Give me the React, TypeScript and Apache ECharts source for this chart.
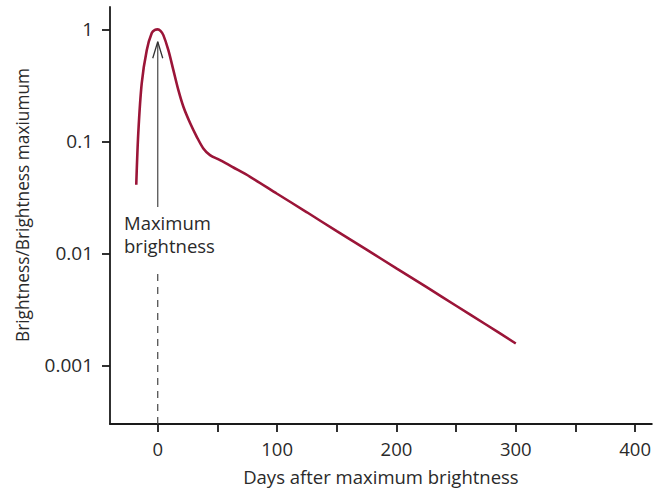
import React, { useEffect, useRef } from "react";
import * as echarts from "echarts";

// Light curve of a Type I supernova (brightness relative to maximum)
const days = [-18, -16.3, -13.4, -9.2, -5, -2.3, 0, 2.3, 4.7, 8.9, 13.1, 17.3, 21.5, 27.1, 32.7, 38.2, 43.8, 52.2, 63.4, 77.4, 100, 125, 150, 175, 200, 225, 250, 275, 300];
const brightness = [0.041, 0.119, 0.332, 0.653, 0.927, 0.99, 1, 0.97, 0.889, 0.653, 0.433, 0.287, 0.204, 0.146, 0.11, 0.0866, 0.0755, 0.068, 0.0585, 0.0483, 0.0341, 0.0233, 0.0158, 0.0108, 0.00736, 0.00502, 0.00341, 0.00232, 0.00157];

const xTicks = [0, 50, 100, 150, 200, 250, 300, 350, 400];
const xLabels = [0, 100, 200, 300, 400];
const yTickValues = [0.001, 0.01, 0.1, 1];
const yTickLabels = ["0.001", "0.01", "0.1", "1"];

// annotation: arrow marking maximum brightness
const arrowDay = 0;
const arrowTip = 0.775;
const arrowShaftBottom = 0.026;
const arrowWing = 0.553;
const arrowWingDays = [-4.2, 4.2];
const dashTop = 0.0074;

const X_MIN = -40;
const X_MAX = 414;
const Y_MIN = 0.0003;
const Y_MAX = 1.585;

const FONT = "Open Sans";
const TEXT = "#2a2a2a";
const l = (v: number) => Math.log10(v);

export default function App() {
  const ref = useRef<HTMLDivElement>(null);
  useEffect(() => {
    if (!ref.current) return;
    const chart = echarts.init(ref.current, undefined, { renderer: "svg" });
    const yLog = yTickValues.map(l);
    chart.setOption({
      animation: false,
      backgroundColor: "#ffffff",
      grid: { left: 110, right: 2, top: 7, bottom: 71 },
      xAxis: {
        type: "value",
        min: X_MIN,
        max: X_MAX,
        name: "Days after maximum brightness",
        nameLocation: "middle",
        nameGap: 43,
        nameTextStyle: { fontFamily: FONT, fontSize: 18.5, color: TEXT },
        axisLine: { onZero: false, lineStyle: { color: "#1a1a1a", width: 1.8 } },
        axisTick: { show: true, customValues: xTicks, length: 8, lineStyle: { color: "#1a1a1a", width: 1.8 } },
        axisLabel: { customValues: xLabels, margin: 15, fontFamily: FONT, fontSize: 18.5, color: TEXT },
        splitLine: { show: false },
      },
      yAxis: {
        type: "value",
        min: l(Y_MIN),
        max: l(Y_MAX),
        axisLine: { show: true, onZero: false, lineStyle: { color: "#1a1a1a", width: 1.8 } },
        axisTick: { show: true, customValues: yLog, length: 8, lineStyle: { color: "#1a1a1a", width: 1.8 } },
        axisLabel: {
          customValues: yLog,
          margin: 17,
          fontFamily: FONT,
          fontSize: 19,
          color: TEXT,
          formatter: (v: number) => {
            const i = yLog.findIndex((t) => Math.abs(t - v) < 1e-6);
            return i >= 0 ? yTickLabels[i] : "";
          },
        },
        splitLine: { show: false },
      },
      graphic: [
        {
          type: "text",
          x: 22,
          y: 205,
          rotation: Math.PI / 2,
          style: {
            text: "Brightness/Brightness maxiumum",
            fontFamily: FONT,
            fontSize: 17.3,
            fill: TEXT,
            textAlign: "center",
            textVerticalAlign: "middle",
          },
        },
        {
          type: "text",
          left: 124,
          top: 211,
          style: {
            text: "Maximum\nbrightness",
            fontFamily: FONT,
            fontSize: 18.5,
            lineHeight: 23,
            fill: TEXT,
          },
        },
      ],
      series: [
        {
          type: "line",
          data: [[arrowDay, l(Y_MIN)], [arrowDay, l(dashTop)]],
          symbol: "none",
          lineStyle: { color: "#444", width: 1.2, type: [7, 6] },
          silent: true,
        },
        {
          type: "line",
          data: [[arrowDay, l(arrowShaftBottom)], [arrowDay, l(arrowTip)]],
          symbol: "none",
          lineStyle: { color: "#555", width: 1.3 },
          silent: true,
        },
        {
          type: "line",
          data: [[arrowWingDays[0], l(arrowWing)], [arrowDay, l(arrowTip)], [arrowWingDays[1], l(arrowWing)]],
          symbol: "none",
          lineStyle: { color: "#333", width: 1.3 },
          silent: true,
        },
        {
          type: "line",
          data: days.map((d, i) => [d, l(brightness[i])]),
          symbol: "none",
          smooth: 0.3,
          lineStyle: { color: "#9b1538", width: 2.6 },
          z: 5,
        },
      ],
    });
    return () => chart.dispose();
  }, []);
  return (
    <div
      ref={ref}
      style={{ position: "absolute", left: 0, top: 0, width: 654, height: 495 }}
    />
  );
}
